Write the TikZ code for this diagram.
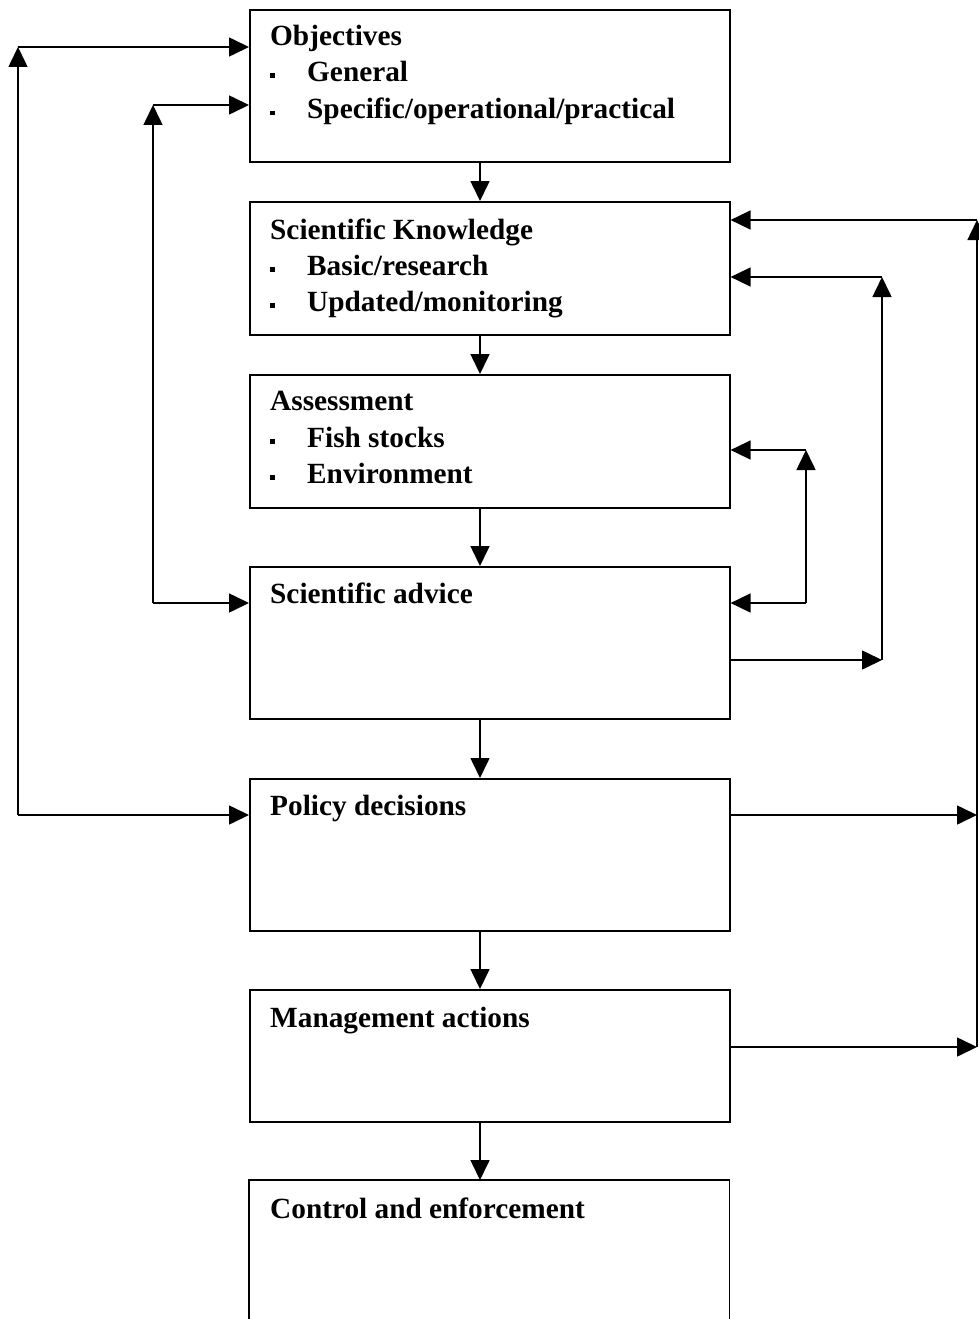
\documentclass[tikz,border=0pt]{standalone}
\usepackage{fontspec}
\setmainfont{Liberation Serif}
\usetikzlibrary{arrows.meta}
\newcommand\bul{\makebox[37pt][l]{\rule[3.5pt]{5pt}{5pt}}}
\begin{document}
\begin{tikzpicture}[x=1pt,y=-1pt,
  box/.style={draw,line width=1.6pt,minimum width=480pt,anchor=north west,inner sep=0pt},
  boxnd/.style={minimum width=480pt,anchor=north west,inner sep=0pt},
  txt/.style={anchor=base west,inner sep=0pt,font=\fontsize{29.3}{35}\selectfont\bfseries},
  arr/.style={line width=1.6pt,-{Triangle[length=20pt,width=19pt]}},
  ln/.style={line width=1.6pt}]
\useasboundingbox (0,0) rectangle (979,1319);
\clip (0,0) rectangle (979,1319);
% boxes
\node[box,minimum height=152pt] (obj) at (249,9) {};
\node[box,minimum height=133pt] (sk) at (249,201) {};
\node[box,minimum height=133pt] (ass) at (249,374) {};
\node[box,minimum height=152pt] (adv) at (249,566) {};
\node[box,minimum height=152pt] (pol) at (249,778) {};
\node[box,minimum height=132pt] (man) at (249,989) {};
\node[boxnd,minimum height=139pt] (ctl) at (249,1180) {};
\draw[ln] (ctl.south west) |- (ctl.north east) -- (ctl.south east);
% texts
\node[txt] (t11) at (270,46) {Objectives};
\node[txt] (t12) at (270,82) {\bul General};
\node[txt] (t13) at (270,119) {\bul Specific/operational/practical};
\node[txt] (t21) at (270,239) {Scientific Knowledge};
\node[txt] (t22) at (270,275) {\bul Basic/research};
\node[txt] (t23) at (270,311) {\bul Updated/monitoring};
\node[txt] (t31) at (270,410) {Assessment};
\node[txt] (t32) at (270,447) {\bul Fish stocks};
\node[txt] (t33) at (270,483) {\bul Environment};
\node[txt] (t41) at (270,603) {Scientific advice};
\node[txt] (t51) at (270,815) {Policy decisions};
\node[txt] (t61) at (270,1027) {Management actions};
\node[txt] (t71) at (270,1218) {Control and enforcement};
% vertical flow
\coordinate (cx) at (480,0);
\draw[arr] (obj.south -| cx) -- (sk.north -| cx);
\draw[arr] (sk.south -| cx) -- (ass.north -| cx);
\draw[arr] (ass.south -| cx) -- (adv.north -| cx);
\draw[arr] (adv.south -| cx) -- (pol.north -| cx);
\draw[arr] (pol.south -| cx) -- (man.north -| cx);
\draw[arr] (man.south -| cx) -- (ctl.north -| cx);
% left loops
\coordinate (L1) at (18,47);
\coordinate (L1b) at (18,815);
\draw[arr] (L1b) -- (L1);
\draw[arr] (L1) -- (L1 -| obj.west);
\draw[arr] (L1b) -- (L1b -| pol.west);
\coordinate (L2) at (153,105);
\coordinate (L2b) at (153,603);
\draw[arr] (L2b) -- (L2);
\draw[arr] (L2) -- (L2 -| obj.west);
\draw[arr] (L2b) -- (L2b -| adv.west);
% right loops
\coordinate (R1) at (806,450);
\coordinate (R1b) at (806,603);
\draw[arr] (R1b) -- (R1);
\draw[arr] (R1) -- (R1 -| ass.east);
\draw[arr] (R1b) -- (R1b -| adv.east);
\coordinate (R2) at (882,277);
\coordinate (R2b) at (882,660);
\draw[arr] (R2b -| adv.east) -- (R2b);
\draw[arr] (R2b) -- (R2);
\draw[arr] (R2) -- (R2 -| sk.east);
\coordinate (R3) at (977,220);
\coordinate (R3m) at (977,815);
\coordinate (R3b) at (977,1047);
\draw[arr] (R3b) -- (R3);
\draw[arr] (R3) -- (R3 -| sk.east);
\draw[arr] (R3m -| pol.east) -- (R3m);
\draw[arr] (R3b -| man.east) -- (R3b);
\end{tikzpicture}
\end{document}
